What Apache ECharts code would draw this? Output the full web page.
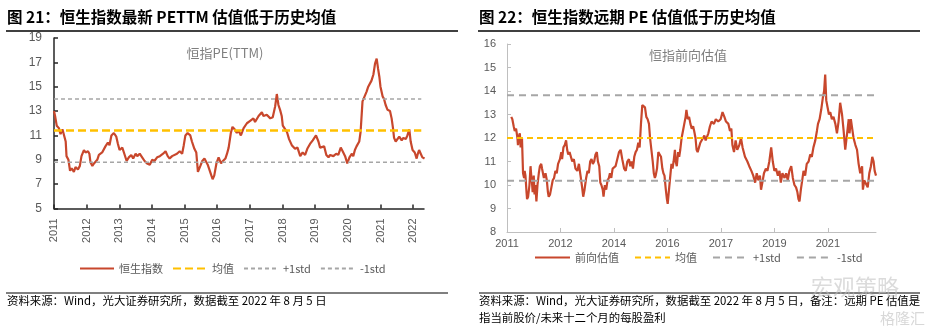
<!DOCTYPE html>
<html>
<head>
<meta charset="utf-8">
<script src="https://cdn.jsdelivr.net/npm/echarts@6.0.0/dist/echarts.min.js"></script>
<style>
html,body{margin:0;padding:0;background:#fff;}
#chart{width:933px;height:332px;}
</style>
</head>
<body>
<div id="chart"></div>
<script>
// ---------- Left chart: 恒指PE(TTM) ----------
// x = months since Jan 2011
const leftMonths = [0,0.4,1.0,1.8,2.4,3.1,3.7,4.3,4.6,5.3,
5.5,5.9,6.5,7.3,7.9,8.8,9.5,10.1,11.0,11.6,
12.5,13.0,13.4,14.1,14.7,15.3,15.9,16.5,17.7,18.9,
19.8,20.4,21.1,22.0,22.9,23.5,24.1,25.1,25.7,26.7,
27.5,28.4,29.1,30.0,30.6,31.5,32.4,33.3,34.2,35.2,
36.1,36.9,37.9,38.9,40.1,41.0,41.8,42.5,43.4,44.0,
45.2,46.2,47.1,47.7,48.3,49.1,50.1,50.7,51.6,52.3,
52.9,53.8,54.5,55.3,56.0,56.5,57.2,57.7,58.3,58.9,
59.7,60.5,61.4,62.1,63.0,63.6,64.2,65.0,65.6,66.4,
67.2,67.8,68.7,69.7,70.9,72.1,73.3,73.9,75.2,76.4,
77.0,78.2,79.5,80.4,81.3,81.9,82.5,83.1,83.7,84.1,
85.0,85.6,86.4,87.4,88.6,89.5,90.5,91.4,92.3,93.1,
94.1,95.1,96.3,97.2,97.8,99.3,100.1,100.9,101.5,102.7,
103.7,104.5,105.4,106.1,107.0,107.8,108.6,109.5,110.0,110.6,
111.2,112.2,112.7,113.4,113.9,114.9,115.5,116.1,116.7,117.4,
118.0,118.6,119.1,119.6,120.0,120.8,121.3,121.9,122.6,123.5,
124.1,124.6,125.0,125.6,126.2,126.9,127.8,128.4,129.3,129.9,
130.6,131.1,131.8,132.6,133.3,133.6,134.2,134.8,135.4,136.2];
const leftValues = [13.0,12.6,11.8,11.6,11.1,11.5,11.4,10.5,9.3,9.0,
8.9,8.1,8.3,8.0,8.4,8.2,8.5,9.3,9.8,9.6,
9.7,9.5,8.8,8.5,8.7,8.6,9.0,9.4,9.6,10.1,
10.4,10.2,11.0,11.2,10.9,10.3,9.8,10.0,9.6,8.9,
9.2,9.4,9.1,9.5,9.3,9.5,9.2,8.9,8.7,8.6,
9.0,8.9,9.2,9.3,9.5,9.7,9.3,9.1,9.3,9.2,
9.5,9.7,9.5,10.2,11.0,11.2,11.0,10.5,9.9,9.6,
8.0,8.5,8.9,9.1,9.0,8.6,8.7,7.8,7.4,7.7,
8.7,9.2,8.7,8.9,9.1,9.5,10.0,11.2,11.7,11.5,
11.2,11.4,11.0,11.6,12.0,12.2,12.4,12.1,12.6,12.9,
12.6,12.7,12.4,12.5,13.4,14.4,13.5,13.1,12.6,11.8,
11.5,11.3,10.7,10.2,9.9,10.0,9.3,9.6,9.4,9.9,
10.3,10.6,11.0,10.5,10.0,10.1,9.4,9.2,9.4,9.3,
9.5,9.4,10.0,9.7,9.3,8.7,9.2,9.5,9.3,9.8,
10.1,10.5,11.3,13.8,13.9,14.6,15.0,15.0,15.5,16.0,
16.9,17.3,16.5,15.8,15.0,14.2,14.0,13.5,13.1,13.0,
12.4,11.6,10.8,10.5,10.6,10.9,10.6,10.8,10.7,11.0,
11.5,10.5,9.8,9.6,9.1,9.4,9.8,9.5,9.2,9.1];
const leftMean = 11.4, leftPlus = 14.0, leftMinus = 8.8;
const leftSpan = [0, 135];
const leftYTicks = [5,7,9,11,13,15,17,19];
const leftXTicks = [0,12,24,36,48,60,72,84,96,108,120,132];

// ---------- Right chart: 恒指前向估值 ----------
const rightMonths = [1.6,2.0,2.5,2.9,3.4,3.9,4.1,4.5,4.8,5.1,
5.6,6.0,6.4,6.6,6.9,7.3,7.5,7.9,8.4,8.8,
9.0,9.4,9.6,10.0,10.3,10.6,11.0,11.4,11.9,12.3,
12.8,13.1,13.8,14.4,14.9,15.3,15.6,16.1,16.6,17.1,
17.6,18.1,18.6,19.1,19.8,20.3,20.6,21.1,21.6,22.1,
22.5,22.9,23.4,23.9,24.4,25.0,25.6,26.3,26.9,27.5,
28.1,28.5,29.0,29.6,30.1,30.6,31.1,31.6,32.1,32.6,
33.1,33.6,34.0,34.5,34.9,35.3,35.8,36.1,36.6,37.1,
37.6,38.1,38.5,39.0,39.5,40.0,40.6,41.3,41.9,42.5,
43.1,43.8,44.4,45.0,45.6,46.1,46.6,47.1,47.6,48.1,
48.6,49.1,49.6,50.1,50.6,51.1,51.6,52.1,52.6,53.1,
53.5,54.0,54.5,54.9,55.3,55.6,56.1,56.6,57.1,57.6,
58.1,58.5,58.9,59.4,59.8,60.1,60.5,61.0,61.5,61.9,
62.3,62.8,63.1,63.5,64.0,64.4,64.8,65.3,65.8,66.3,
66.8,67.1,67.6,68.1,68.6,69.1,69.6,70.0,70.5,70.9,
71.3,71.8,72.3,72.8,73.3,73.8,74.3,75.3,75.9,76.5,
77.4,78.1,79.0,79.9,80.6,81.3,81.9,82.8,83.4,83.9,
84.3,84.9,85.5,86.1,86.9,87.5,88.1,89.0,89.9,90.6,
91.4,92.1,92.8,93.4,94.0,94.6,95.0,95.5,96.1,96.8,
97.4,98.1,98.8,99.4,100.0,100.6,101.3,101.9,102.4,103.0,
103.8,104.4,105.0,105.6,106.3,106.9,107.5,108.1,108.6,109.0,
109.4,109.9,110.4,110.9,111.5,112.1,112.8,113.4,114.0,114.6,
115.3,115.9,116.3,116.9,117.5,118.1,118.6,119.0,119.4,119.9,
120.4,120.9,121.5,122.1,122.8,123.4,124.0,124.6,125.3,125.9,
126.5,127.1,127.8,128.1,128.6,129.1,129.6,130.3,130.9,131.5,
132.1,132.8,133.1,133.6,134.3,134.9,135.5,136.1,136.6,137.1,
137.5,138.0];
const rightValues = [12.9,12.8,12.5,12.3,12.4,12.0,11.7,12.1,12.2,11.6,
12.0,10.5,10.3,10.6,10.4,9.7,9.4,9.5,10.0,10.8,
10.5,10.0,9.7,10.4,9.6,10.0,9.3,10.0,10.5,10.8,
10.9,10.7,10.3,10.5,10.2,9.7,9.5,9.6,9.9,10.2,
10.3,10.6,10.5,10.9,11.1,11.4,11.1,11.6,11.7,11.9,
11.5,11.3,11.4,11.2,11.0,11.1,10.7,10.6,10.9,10.4,
9.9,9.5,9.8,10.3,10.6,10.5,11.0,11.1,10.9,11.0,
11.3,11.4,11.0,10.8,10.1,10.0,9.8,9.5,10.0,9.8,
10.2,10.3,10.5,10.3,10.7,10.7,10.8,10.8,11.4,11.5,
11.1,10.7,10.6,11.0,11.1,10.8,11.0,10.7,11.2,11.4,
11.5,11.8,11.6,12.6,13.4,13.4,13.3,12.9,12.8,12.6,
12.0,11.5,11.0,10.5,10.3,10.4,10.7,11.4,11.3,11.2,
10.7,10.5,10.4,9.8,9.4,9.2,9.7,10.3,10.9,10.7,
11.0,11.5,11.0,10.8,11.4,11.2,11.5,12.0,12.3,12.6,
12.9,13.2,12.8,12.9,12.6,12.4,12.5,12.3,12.0,11.5,
11.4,11.6,11.8,11.8,12.0,12.1,11.9,12.2,12.5,12.7,
12.6,12.8,12.7,12.8,13.1,12.9,12.7,12.6,12.3,12.4,
11.7,11.4,11.9,11.5,11.7,12.0,11.6,11.2,11.0,10.8,
10.6,10.4,10.1,10.5,10.2,10.4,9.8,10.1,10.5,10.7,
10.6,11.0,11.6,11.0,10.6,10.7,10.4,10.6,10.1,10.5,
10.3,10.5,10.2,10.6,10.8,10.3,10.0,9.9,9.7,9.4,
9.3,9.8,10.2,10.6,10.4,10.9,11.0,11.3,11.2,11.6,
11.9,12.3,12.6,12.8,13.2,13.7,14.0,14.7,13.6,13.3,
13.0,13.1,12.8,12.9,12.6,12.2,12.7,13.5,13.0,12.3,
11.5,12.1,12.8,12.2,12.8,12.4,12.0,11.7,11.5,10.9,
10.5,10.8,9.8,10.2,10.2,9.9,10.5,10.8,11.2,11.0,
10.6,10.4];
const rightMean = 12.0, rightPlus = 13.82, rightMinus = 10.18;
const rightSpan = [0, 138];
const rightXTicks = [0,20,40,60,80,100,120];

const RED = '#c8472c', YEL = '#ffc000', GRY = '#a6a6a6';
const NUM = 'Arial, "Liberation Sans", sans-serif';
const CJK = '"Noto Sans CJK SC", sans-serif';

const pairs = (xs, ys) => xs.map((x, i) => [x, ys[i]]);
const flat = (span, v) => span.map(x => [x, v]);
const strip = n => n.split('|')[0];

const chart = echarts.init(document.getElementById('chart'), null, {renderer: 'canvas'});
chart.setOption({
  animation: false,
  backgroundColor: '#fff',
  grid: [
    {left: 54, top: 38, width: 370, height: 170.5},
    {left: 507, top: 44, width: 369, height: 188}
  ],
  xAxis: [
    {type: 'value', gridIndex: 0, min: 0, max: 136,
     axisLine: {lineStyle: {color: '#262626', width: 1.5}},
     axisTick: {inside: true, length: 4, customValues: leftXTicks, lineStyle: {color: '#262626', width: 1.5}},
     axisLabel: {customValues: leftXTicks, rotate: 90, margin: 10, color: '#595959', fontSize: 11, fontFamily: NUM,
                 formatter: v => String(2011 + Math.round(v / 12))},
     splitLine: {show: false}},
    {type: 'value', gridIndex: 1, min: 0, max: 138,
     axisLine: {lineStyle: {color: '#bfbfbf', width: 1}},
     axisTick: {inside: true, length: 4, customValues: rightXTicks, lineStyle: {color: '#bfbfbf'}},
     axisLabel: {customValues: rightXTicks, margin: 6, color: '#595959', fontSize: 11, fontFamily: NUM,
                 formatter: v => String(2011 + Math.floor(v / 12))},
     splitLine: {show: false}}
  ],
  yAxis: [
    {type: 'value', gridIndex: 0, min: 5, max: 19,
     axisLine: {show: true, lineStyle: {color: '#262626', width: 1.5}},
     axisTick: {show: true, inside: true, length: 4, customValues: leftYTicks, lineStyle: {color: '#262626', width: 1.5}},
     axisLabel: {customValues: leftYTicks, margin: 12, color: '#595959', fontSize: 12, fontFamily: NUM},
     splitLine: {show: false}},
    {type: 'value', gridIndex: 1, min: 8, max: 16, interval: 1,
     axisLine: {show: true, lineStyle: {color: '#bfbfbf', width: 1}},
     axisTick: {show: true, inside: true, length: 4, lineStyle: {color: '#bfbfbf'}},
     axisLabel: {margin: 11, color: '#595959', fontSize: 11, fontFamily: NUM},
     splitLine: {show: false}}
  ],
  legend: [
    {left: 79, top: 263, padding: 0, itemWidth: 34, itemHeight: 14, itemGap: 9,
     itemStyle: {opacity: 0},
     data: ['恒生指数', '均值|L', '+1std|L', '-1std|L'], formatter: strip,
     textStyle: {color: '#595959', fontSize: 11, fontFamily: CJK}},
    {left: 534, top: 252, padding: 0, itemWidth: 35, itemHeight: 14, itemGap: 15,
     itemStyle: {opacity: 0},
     data: ['前向估值', '均值|R', '+1std|R', '-1std|R'], formatter: strip,
     textStyle: {color: '#595959', fontSize: 11, fontFamily: CJK}}
  ],
  series: [
    {type: 'line', name: '恒生指数', xAxisIndex: 0, yAxisIndex: 0, data: pairs(leftMonths, leftValues),
     symbol: 'none', lineStyle: {color: RED, width: 2.2}, itemStyle: {color: RED}, z: 2},
    {type: 'line', name: '均值|L', xAxisIndex: 0, yAxisIndex: 0, data: flat(leftSpan, leftMean),
     symbol: 'none', lineStyle: {color: YEL, width: 2.5, type: [8, 4]}, itemStyle: {color: YEL}, z: 3},
    {type: 'line', name: '+1std|L', xAxisIndex: 0, yAxisIndex: 0, data: flat(leftSpan, leftPlus),
     symbol: 'none', lineStyle: {color: GRY, width: 1.5, type: [4, 3]}, itemStyle: {color: GRY}, z: 3},
    {type: 'line', name: '-1std|L', xAxisIndex: 0, yAxisIndex: 0, data: flat(leftSpan, leftMinus),
     symbol: 'none', lineStyle: {color: GRY, width: 1.5, type: [4, 3]}, itemStyle: {color: GRY}, z: 3},

    {type: 'line', name: '前向估值', xAxisIndex: 1, yAxisIndex: 1, data: pairs(rightMonths, rightValues),
     symbol: 'none', lineStyle: {color: RED, width: 2.2}, itemStyle: {color: RED}, z: 2},
    {type: 'line', name: '均值|R', xAxisIndex: 1, yAxisIndex: 1, data: flat(rightSpan, rightMean),
     symbol: 'none', lineStyle: {color: YEL, width: 2, type: [6, 4]}, itemStyle: {color: YEL}, z: 3},
    {type: 'line', name: '+1std|R', xAxisIndex: 1, yAxisIndex: 1, data: flat(rightSpan, rightPlus),
     symbol: 'none', lineStyle: {color: GRY, width: 2, type: [7, 5]}, itemStyle: {color: GRY}, z: 3},
    {type: 'line', name: '-1std|R', xAxisIndex: 1, yAxisIndex: 1, data: flat(rightSpan, rightMinus),
     symbol: 'none', lineStyle: {color: GRY, width: 2, type: [7, 5]}, itemStyle: {color: GRY}, z: 3}
  ],
  graphic: [
    {type: 'text', x: 7, y: 17, style: {text: '图 21：恒生指数最新 PETTM 估值低于历史均值', font: 'bold 15.5px ' + CJK, fill: '#000', textVerticalAlign: 'middle'}},
    {type: 'text', x: 479, y: 17, style: {text: '图 22：恒生指数远期 PE 估值低于历史均值', font: 'bold 15.5px ' + CJK, fill: '#000', textVerticalAlign: 'middle'}},
    {type: 'line', shape: {x1: 6, y1: 31, x2: 458, y2: 31}, style: {stroke: '#000', lineWidth: 1.5}},
    {type: 'line', shape: {x1: 478, y1: 31, x2: 920, y2: 31}, style: {stroke: '#000', lineWidth: 1.5}},
    {type: 'text', x: 225, y: 53, style: {text: '恒指PE(TTM)', font: '13px ' + CJK, fill: '#7f7f7f', textAlign: 'center', textVerticalAlign: 'middle'}},
    {type: 'text', x: 688, y: 55, style: {text: '恒指前向估值', font: '13px ' + CJK, fill: '#7f7f7f', textAlign: 'center', textVerticalAlign: 'middle'}},
    {type: 'line', shape: {x1: 6, y1: 293, x2: 448, y2: 293}, style: {stroke: '#000', lineWidth: 1}},
    {type: 'line', shape: {x1: 479, y1: 293, x2: 920, y2: 293}, style: {stroke: '#000', lineWidth: 1}},
    {type: 'text', x: 7, y: 301, style: {text: '资料来源：Wind，光大证券研究所，数据截至 2022 年 8 月 5 日', font: '11.4px ' + CJK, fill: '#000', textVerticalAlign: 'middle'}},
    {type: 'text', x: 479, y: 301, style: {text: '资料来源：Wind，光大证券研究所，数据截至 2022 年 8 月 5 日，备注：远期 PE 估值是', font: '11.4px ' + CJK, fill: '#000', textVerticalAlign: 'middle'}},
    {type: 'text', x: 479, y: 318, style: {text: '指当前股价/未来十二个月的每股盈利', font: '11.4px ' + CJK, fill: '#000', textVerticalAlign: 'middle'}},
    {type: 'text', x: 811, y: 287, z: 100, style: {text: '宏观策略', font: '22px ' + CJK, fill: 'rgba(190,190,190,0.55)', textVerticalAlign: 'middle'}},
    {type: 'text', x: 880, y: 318, z: 100, style: {text: '格隆汇', font: '15px ' + CJK, fill: 'rgba(190,190,190,0.6)', textVerticalAlign: 'middle'}}
  ]
});
</script>
</body>
</html>
